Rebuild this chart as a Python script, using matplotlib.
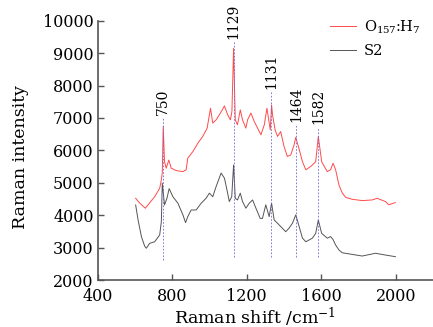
import matplotlib
matplotlib.use("Agg")
import matplotlib.pyplot as plt

# O157:H7 spectrum
red_shift = [603, 625, 655, 678, 705, 732, 741, 746, 751, 758, 767, 781, 794, 821,
             857, 874, 883, 910, 937, 963, 987, 1005, 1017, 1035, 1053, 1080, 1097,
             1112, 1120, 1129, 1138, 1150, 1165, 1177, 1195, 1204, 1222, 1240, 1258,
             1276, 1294, 1308, 1326, 1333, 1338, 1352, 1365, 1382, 1400, 1418, 1436,
             1454, 1463, 1477, 1499, 1517, 1543, 1570, 1584, 1602, 1632, 1650, 1663,
             1677, 1695, 1713, 1731, 1766, 1820, 1873, 1900, 1945, 1962, 1998]
red_int = [4523, 4370, 4214, 4380, 4570, 4830, 5090, 5300, 6735, 5650, 5450, 5700,
           5450, 5375, 5345, 5400, 5760, 5960, 6220, 6425, 6685, 7300, 6840, 6940,
           7100, 7370, 7100, 6940, 7200, 9150, 6940, 6790, 7250, 6940, 6685, 6940,
           7150, 6890, 6685, 6480, 6790, 7300, 6630, 7400, 7100, 6630, 6430, 6580,
           6120, 5810, 5860, 6170, 6400, 6120, 5650, 5400, 5500, 5650, 6430, 5650,
           5345, 5400, 5600, 5400, 4930, 4680, 4550, 4490, 4450, 4470, 4520, 4420,
           4320, 4390]

# S2 spectrum
blk_shift = [603, 616, 634, 651, 660, 678, 705, 732, 741, 746, 758, 771, 783, 803,
             830, 857, 871, 883, 901, 928, 955, 981, 999, 1017, 1035, 1062, 1080,
             1097, 1106, 1119, 1129, 1138, 1150, 1165, 1177, 1195, 1213, 1231, 1249,
             1272, 1284, 1302, 1320, 1333, 1347, 1365, 1382, 1409, 1427, 1445, 1463,
             1481, 1499, 1517, 1552, 1570, 1584, 1602, 1632, 1650, 1663, 1677, 1695,
             1713, 1766, 1820, 1891, 1945, 1998]
blk_int = [4316, 3853, 3337, 3050, 2980, 3130, 3180, 3390, 3800, 4990, 4316, 4520,
           4820, 4570, 4370, 4007, 3770, 3955, 4160, 4160, 4370, 4520, 4680, 4570,
           4880, 5300, 5140, 4680, 4420, 4570, 5550, 4520, 4470, 4680, 4420, 4215,
           4370, 4470, 4215, 3900, 3900, 4320, 3955, 4370, 3850, 3750, 3650, 3490,
           3600, 3750, 4010, 3650, 3290, 3180, 3290, 3440, 3850, 3440, 3290, 3340,
           3250, 3080, 2925, 2840, 2790, 2740, 2825, 2770, 2720]

# marked peaks: line position, label text, line top, line bottom
peak_pos = [750, 1129, 1331, 1464, 1582]
peak_text = ["750", "1129", "1131", "1464", "1582"]
peak_top = [7000, 9350, 7800, 6800, 6730]
peak_bottom = [2620, 2700, 2700, 2700, 2700]

plt.rcParams["font.family"] = "DejaVu Serif"
plt.rcParams["mathtext.fontset"] = "dejavuserif"

fig = plt.figure(figsize=(4.33, 3.27), dpi=100)
ax = fig.add_axes([0.226, 0.1437, 0.774, 0.793])

ax.plot(red_shift, red_int, color="#ff4a4a", lw=0.7, label=r"O$_{157}$:H$_7$")
ax.plot(blk_shift, blk_int, color="#555555", lw=0.7, label="S2")

for pos, txt, top, bot in zip(peak_pos, peak_text, peak_top, peak_bottom):
    ax.plot([pos, pos], [bot, top], color="#6a6ad8", lw=0.6, ls=(0, (2, 2)))
    ax.text(pos, top + 80, txt, rotation=90, ha="center", va="bottom", fontsize=10)

ax.set_xlim(400, 2200)
ax.set_ylim(2000, 10000)
ax.set_xticks([400, 800, 1200, 1600, 2000])
ax.set_yticks(range(2000, 10001, 1000))
ax.tick_params(direction="in", length=4, width=1, color="#555555", labelsize=11.5)
ax.tick_params(axis="x", pad=6)
ax.tick_params(axis="y", pad=3)

for side in ["top", "right"]:
    ax.spines[side].set_visible(False)
for side in ["left", "bottom"]:
    ax.spines[side].set_color("#555555")
    ax.spines[side].set_linewidth(1.2)

ax.set_xlabel(r"Raman shift /cm$^{-1}$", fontsize=12.5, labelpad=0, x=0.47)
ax.set_ylabel("Raman intensity", fontsize=12.5, labelpad=10, y=0.475)

ax.legend(loc="upper right", bbox_to_anchor=(1.0, 1.06), frameon=False,
          fontsize=10.5, handlelength=1.8, handletextpad=0.5, labelspacing=0.6)

fig.savefig("out.png", dpi=100)
